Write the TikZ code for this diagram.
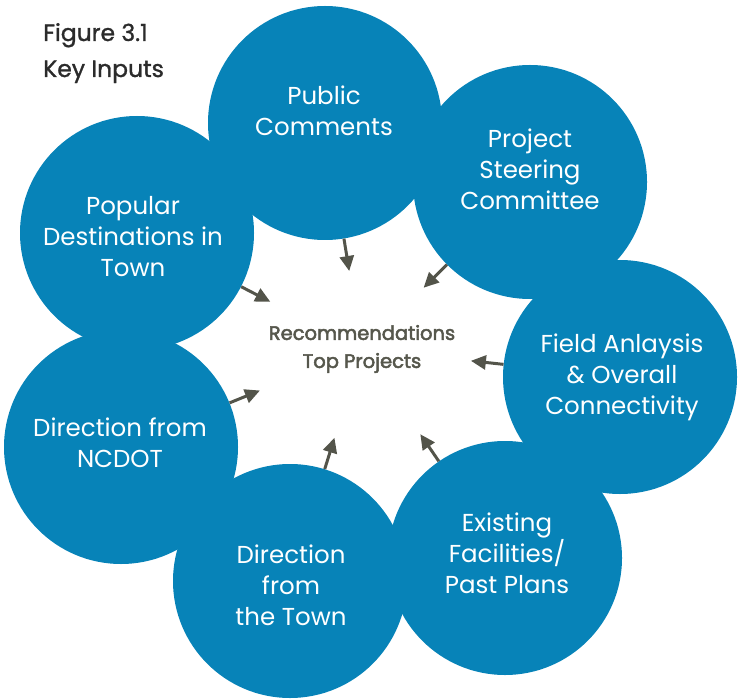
\documentclass[tikz,border=0pt]{standalone}
\usepackage{fontspec}
\setmainfont{Poppins}
\newfontfamily\moyen[FakeBold=1.2]{Poppins}
\newfontfamily\gras[FakeBold=2.6]{Poppins}
\usetikzlibrary{arrows.meta,calc}
\definecolor{bleu}{HTML}{0783B8}
\definecolor{fleche}{HTML}{53544A}
\definecolor{titre}{HTML}{2B2B2B}
\definecolor{centre}{HTML}{56574C}

\begin{document}
\begin{tikzpicture}[x=1pt,y=-1pt,
  disque/.style={circle,fill=bleu,inner sep=0pt,minimum size=234pt},
  txt/.style={text=white,align=center,font=\fontsize{24.5}{31}\selectfont},
  fl/.style={draw=fleche,line width=3pt,-{Triangle[length=15pt,width=14pt]}}]
\useasboundingbox (0,0) rectangle (743,700);

%le titre
\node[anchor=base west,inner sep=0pt,text=titre,font=\moyen\fontsize{23.5}{28}\selectfont] (fig) at (43,41) {Figure 3.1};
\node[anchor=base west,inner sep=0pt,text=titre,font=\moyen\fontsize{23.5}{28}\selectfont] (key) at (43,77) {Key Inputs};

%les disques
\node[disque] (pub) at (325,123) {};
\node[disque] (steer) at (530,182) {};
\node[disque] (popu) at (137,233) {};
\node[disque] (field) at (620,377) {};
\node[disque] (ncdot) at (121,447) {};
\node[disque] (exist) at (505,558) {};
\node[disque] (town) at (290,581) {};

%les textes
\node[txt] (tpub) at (324,111) {Public\\Comments};
\node[txt] (tsteer) at (530,169) {Project\\Steering\\Committee};
\node[txt] (tpopu) at (133,237) {Popular\\Destinations in\\Town};
\node[txt] (tfield) at (622,377) {Field Anlaysis\\\& Overall\\Connectivity};
\node[txt] (tncdot) at (120,443) {Direction from\\NCDOT};
\node[txt] (texist) at (507,553) {Existing\\Facilities/\\Past Plans};
\node[txt] (ttown) at (291,585) {Direction\\from\\the Town};

\node[text=centre,align=center,font=\gras\fontsize{19.5}{28}\selectfont] (rec) at (362,349) {Recommendations\\Top Projects};

%les fleches
\foreach \d in {pub,steer,popu,field,ncdot,exist,town}
  \draw[fl] (\d) -- ($(\d.center)!150pt!(rec.center)$);
\end{tikzpicture}
\end{document}
